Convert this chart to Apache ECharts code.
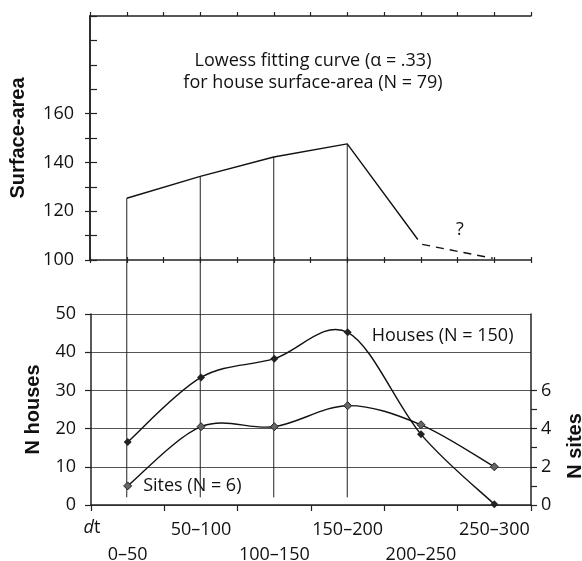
<!DOCTYPE html>
<html><head><meta charset="utf-8">
<script src="https://cdn.jsdelivr.net/npm/echarts@6/dist/echarts.min.js"></script>
<style>html,body{margin:0;padding:0;background:#fff}#c{width:582px;height:561px}</style>
</head><body><div id="c"></div>
<script>
// ---- data ----
const categories = ['0–50', '50–100', '100–150', '150–200', '200–250', '250–300'];
const housesN = [16.5, 33.4, 38.3, 45.2, 18.5, 0.2];
const sitesN = [1.0, 4.1, 4.1, 5.2, 4.2, 2.0];
const lowessX = [25, 75, 125, 175, 223];
const lowessY = [125.3, 134.3, 142.2, 147.6, 108.4];
const lowessDashX = [226, 274];
const lowessDashY = [106.4, 100.7];
const connectorX = [25, 75, 125, 175];
const connectorTopY = [125.3, 134.3, 142.2, 147.6];
const connectorBottomHouses = 2;
const surfaceLabels = [100, 120, 140, 160];
const surfaceLeftTicks = [100, 110, 120, 130, 140, 150, 160];
const sitesLabels = [0, 2, 4, 6];
const sitesTicks = [0, 1, 2, 3, 4, 5, 6];

const FONT = '"Open Sans", "Noto Sans", sans-serif';
const BOLD = '"Liberation Sans", Arial, sans-serif';
const AX = '#222';

const chart = echarts.init(document.getElementById('c'), null, {renderer: 'canvas'});

const grids = [
  {left: 90, right: 51, top: 16, height: 244, containLabel: false, outerBoundsMode: 'none'},
  {left: 91, right: 51, top: 314, height: 191, containLabel: false, outerBoundsMode: 'none'}
];

const xAxes = [
  {gridIndex: 0, type: 'value', position: 'bottom', min: 0, max: 300, interval: 25,
   axisLine: {show: true, lineStyle: {color: AX, width: 1.5}},
   axisTick: {show: true, inside: true, length: 3, lineStyle: {color: AX, width: 1.2}},
   axisLabel: {show: false}, splitLine: {show: false}},
  {gridIndex: 0, type: 'value', position: 'bottom', min: 0, max: 300, interval: 25,
   axisLine: {show: false},
   axisTick: {show: true, inside: false, length: 3, lineStyle: {color: AX, width: 1.2}},
   axisLabel: {show: false}, splitLine: {show: false}},
  {gridIndex: 0, type: 'value', position: 'top', min: 0, max: 300, interval: 25,
   axisLine: {show: true, lineStyle: {color: AX, width: 1.5}},
   axisTick: {show: true, inside: false, length: 4, lineStyle: {color: AX, width: 1.2}},
   axisLabel: {show: false}, splitLine: {show: false}},
  {gridIndex: 1, type: 'category', position: 'bottom', data: categories, boundaryGap: true,
   axisLine: {show: true, lineStyle: {color: AX, width: 1.5}},
   axisTick: {show: true, interval: 0, inside: false, length: 6, lineStyle: {color: AX, width: 1.2}},
   axisLabel: {show: true, interval: 0, margin: 12, color: '#111', fontFamily: FONT, fontSize: 18,
     lineHeight: 25, verticalAlign: 'top', hideOverlap: false,
     formatter: (v, i) => (i % 2 === 1 ? v : '\n' + v)},
   splitLine: {show: false}}
];

const yAxes = [
  {gridIndex: 0, type: 'value', position: 'left', min: 100, max: 200, interval: 10,
   name: 'Surface-area', nameLocation: 'middle', nameGap: 62,
   nameTextStyle: {fontFamily: BOLD, fontWeight: 'bold', fontSize: 20, color: '#111'},
   axisLine: {show: true, lineStyle: {color: AX, width: 1.5}},
   axisTick: {show: true, inside: false, length: 5, customValues: surfaceLeftTicks, lineStyle: {color: AX, width: 1.2}},
   axisLabel: {show: true, customValues: surfaceLabels, margin: 16, color: '#111', fontFamily: FONT, fontSize: 18},
   splitLine: {show: false}},
  {gridIndex: 0, type: 'value', position: 'right', min: 100, max: 200, interval: 10,
   axisLine: {show: true, lineStyle: {color: AX, width: 1.5}},
   axisTick: {show: true, inside: false, length: 7, lineStyle: {color: AX, width: 1.2}},
   axisLabel: {show: false}, splitLine: {show: false}},
  {gridIndex: 1, type: 'value', position: 'left', min: 0, max: 50, interval: 10,
   name: 'N houses', nameLocation: 'middle', nameGap: 48,
   nameTextStyle: {fontFamily: BOLD, fontWeight: 'bold', fontSize: 20, color: '#111'},
   axisLine: {show: true, lineStyle: {color: AX, width: 1.5}},
   axisTick: {show: true, inside: false, length: 6, lineStyle: {color: AX, width: 1.2}},
   axisLabel: {show: true, margin: 15, color: '#111', fontFamily: FONT, fontSize: 18},
   splitLine: {show: true, lineStyle: {color: '#555', width: 1.2}}},
  {gridIndex: 1, type: 'value', position: 'right', min: 0, max: 10, interval: 1,
   axisLine: {show: true, lineStyle: {color: AX, width: 1.5}},
   axisTick: {show: true, inside: false, length: 6, customValues: sitesTicks, lineStyle: {color: AX, width: 1.2}},
   axisLabel: {show: true, customValues: sitesLabels, margin: 10, color: '#111', fontFamily: FONT, fontSize: 18},
   splitLine: {show: false}}
];

const lineStyle = {color: '#111', width: 1.4};

// Catmull-Rom spline through the data points, drawn via the axes' scales
function splineRender(values) {
  return function (params, api) {
    const i = params.dataIndex, n = values.length;
    if (i >= n - 1) return null;
    const p = k => {
      const j = Math.max(0, Math.min(n - 1, k));
      return api.coord([j, values[j]]);
    };
    const p0 = p(i - 1), p1 = p(i), p2 = p(i + 1), p3 = p(i + 2);
    const t = 1 / 6;
    return {
      type: 'bezierCurve',
      shape: {
        x1: p1[0], y1: p1[1], x2: p2[0], y2: p2[1],
        cpx1: p1[0] + (p2[0] - p0[0]) * t, cpy1: p1[1] + (p2[1] - p0[1]) * t,
        cpx2: p2[0] - (p3[0] - p1[0]) * t, cpy2: p2[1] - (p3[1] - p1[1]) * t
      },
      style: {stroke: '#111', lineWidth: 1.4, fill: 'none'},
      silent: true
    };
  };
}

const series = [
  {type: 'line', name: 'lowess', xAxisIndex: 0, yAxisIndex: 0, symbol: 'none', silent: true,
   data: lowessX.map((x, i) => [x, lowessY[i]]), lineStyle: lineStyle},
  {type: 'line', name: 'lowessDash', xAxisIndex: 0, yAxisIndex: 0, symbol: 'none', silent: true,
   data: lowessDashX.map((x, i) => [x, lowessDashY[i]]),
   lineStyle: {color: '#111', width: 1.4, type: [8, 6]}},
  {type: 'custom', name: 'HousesCurve', xAxisIndex: 3, yAxisIndex: 2, silent: true, z: 2,
   renderItem: splineRender(housesN), data: housesN.map((v, i) => [i, v]), encode: {x: 0, y: 1}},
  {type: 'custom', name: 'SitesCurve', xAxisIndex: 3, yAxisIndex: 3, silent: true, z: 2,
   renderItem: splineRender(sitesN), data: sitesN.map((v, i) => [i, v]), encode: {x: 0, y: 1}},
  {type: 'scatter', name: 'Houses', xAxisIndex: 3, yAxisIndex: 2, z: 4,
   symbol: 'diamond', symbolSize: 8, silent: true,
   itemStyle: {color: '#222', opacity: 1},
   data: housesN.map((v, i) => i === 3 ? {value: [i, v], label: {show: true, position: 'right', distance: 20, offset: [0, 4],
     formatter: 'Houses (N = 150)', fontFamily: FONT, fontSize: 18, color: '#111'}} : [i, v])},
  {type: 'scatter', name: 'Sites', xAxisIndex: 3, yAxisIndex: 3, z: 4,
   symbol: 'diamond', symbolSize: 8, silent: true,
   itemStyle: {color: '#666', borderColor: '#222', borderWidth: 1, opacity: 1},
   data: sitesN.map((v, i) => i === 0 ? {value: [i, v], label: {show: true, position: 'right', distance: 11,
     formatter: 'Sites (N = 6)', fontFamily: FONT, fontSize: 18, color: '#111'}} : [i, v])}
];

const option = {
  animation: false,
  backgroundColor: '#fff',
  title: {
    text: 'Lowess fitting curve (α = .33)\nfor house surface-area (N = 79)',
    left: 308, top: 45, textAlign: 'center',
    textStyle: {fontFamily: FONT, fontSize: 18, fontWeight: 'normal', color: '#111', lineHeight: 22}
  },
  grid: grids,
  xAxis: xAxes,
  yAxis: yAxes,
  series: series,
  graphic: [
    {type: 'text', x: 460, y: 230, style: {text: '?', font: '18px ' + FONT, fill: '#111', align: 'center', verticalAlign: 'middle'}},
    {type: 'text', x: 92, y: 528, style: {
      text: '{i|d}t', font: '18px ' + FONT, fill: '#111', align: 'center', verticalAlign: 'middle',
      rich: {i: {fontStyle: 'italic', fontFamily: FONT, fontSize: 18, fill: '#111'}}}},
    {type: 'text', x: 575, y: 446, rotation: Math.PI / 2, style: {
      text: 'N sites', font: 'bold 20px ' + BOLD, fill: '#111', align: 'center', verticalAlign: 'middle'}}
  ]
};

chart.setOption(option);

// connector lines from the lowess curve down into the lower panel, positioned via axis scales
const connectors = connectorX.map((x, i) => {
  const pix = chart.convertToPixel({xAxisIndex: 3, yAxisIndex: 2}, [i, connectorBottomHouses]);
  const topVal = chart.convertFromPixel({xAxisIndex: 0, yAxisIndex: 0}, pix);
  return {type: 'line', xAxisIndex: 0, yAxisIndex: 0, symbol: 'none', silent: true, clip: false,
    data: [[x, connectorTopY[i]], [x, topVal[1]]], lineStyle: {color: '#222', width: 1}, z: 1};
});
option.series = series.concat(connectors);
chart.setOption(option, true);
</script></body></html>
